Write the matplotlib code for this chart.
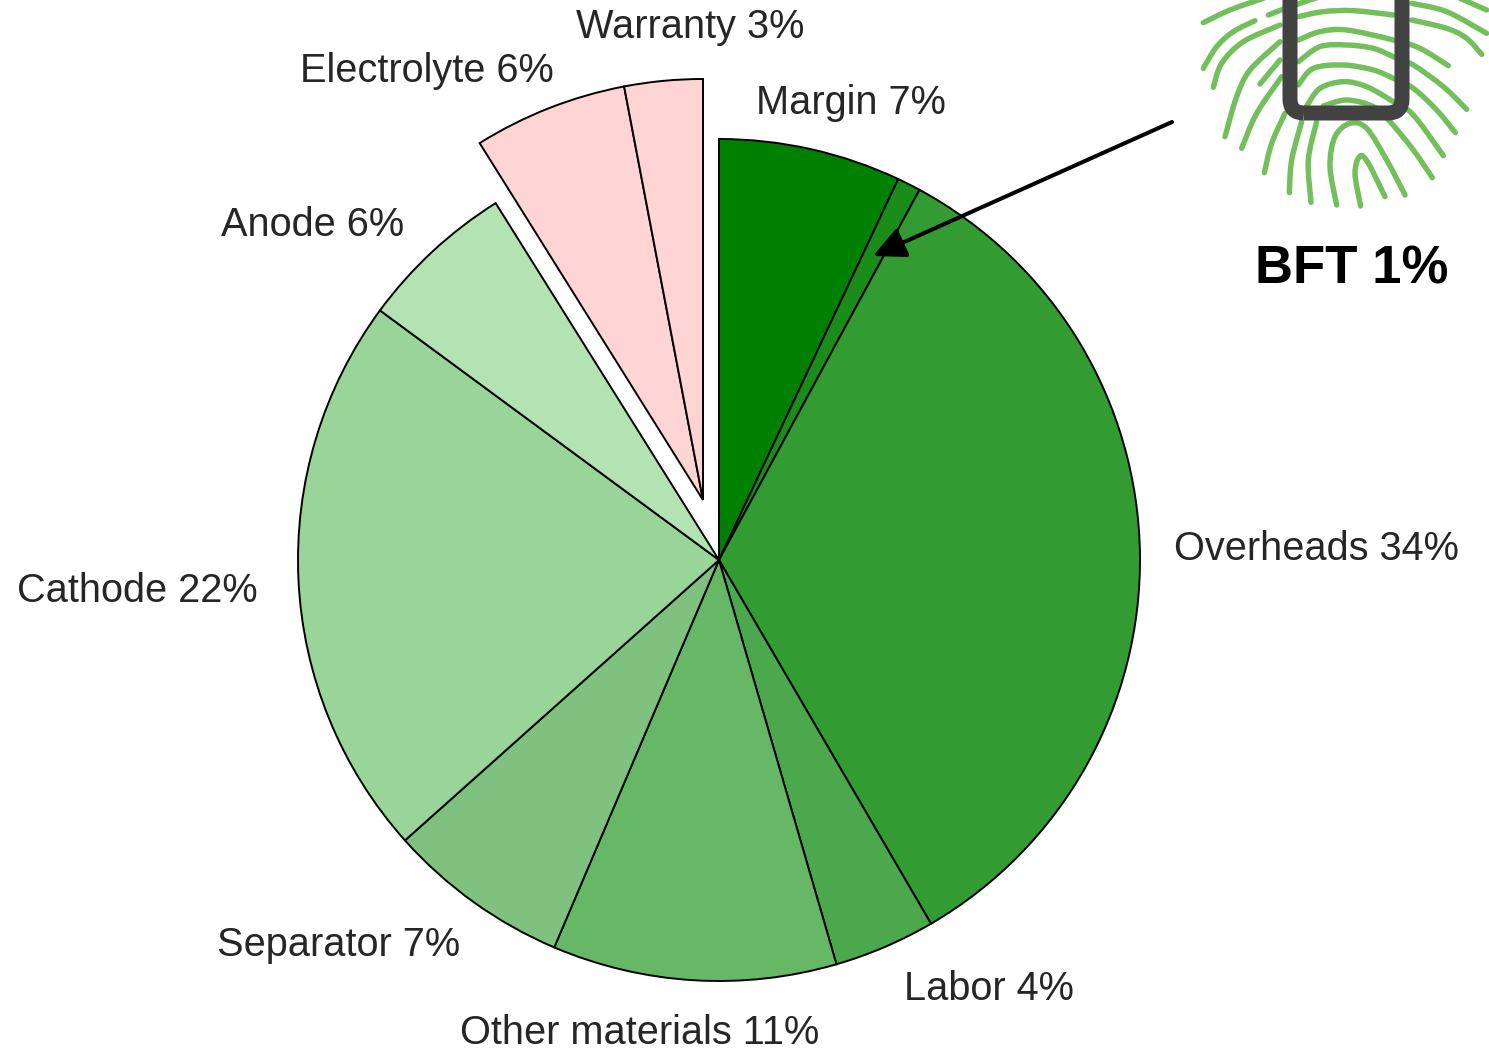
import numpy as np
import matplotlib
matplotlib.use('Agg')
import matplotlib.pyplot as plt
from matplotlib.path import Path
from matplotlib.patches import PathPatch, FancyBboxPatch

plt.rcParams['font.family'] = ['Liberation Sans', 'DejaVu Sans']

# Main pie slices, clockwise from twelve o'clock
green_names = ['Margin', 'BFT', 'Overheads', 'Labor', 'Other materials', 'Separator', 'Cathode', 'Anode']
green_values = [7.0, 0.9, 33.7, 3.9, 10.9, 7.0, 21.7, 6.0]
green_shown = [7, 1, 34, 4, 11, 7, 22, 6]
green_colors = ['#008000', '#198c19', '#329b32', '#4ca84c', '#66b766', '#7fc27f', '#99d499', '#b3e3b3']

# Slices pulled out of the pie
pink_names = ['Electrolyte', 'Warranty']
pink_values = [5.9, 3.0]
pink_shown = [6, 3]
pink_colors = ['#ffd4d4', '#ffd4d4']

# left edge and vertical centre of each label, in image pixels
green_label_pos = [(756, 103.5), None, (1174, 548.5), (904, 989.5), (460, 1032.5), (217, 944.5), (17, 590.5), (221, 224.5)]
pink_label_pos = [(300, 70.5), (576, 27.5)]

W, H = 1489, 1051
CX, CY, R = 719, H - 560, 421
PX, PY = 703, H - 500
TEXT = '#262626'

# Fingerprint icon ridges (x, y on a 3x crop at 1180, 0)
ridges = [
    [(70, 68), (150, 30), (250, -5)],
    [(70, 205), (110, 140), (160, 95), (225, 62)],
    [(100, 262), (125, 190), (190, 125), (300, 75)],
    [(265, 45), (330, 20), (420, -10)],
    [(355, 50), (430, 35), (520, 32), (640, 45)],
    [(695, 10), (800, 35), (920, 100)],
    [(695, 60), (800, 85), (860, 115), (905, 163)],
    [(355, 120), (420, 95), (500, 90), (640, 120), (720, 145), (805, 197)],
    [(240, 252), (300, 180)],
    [(355, 185), (420, 140), (500, 135), (580, 145), (640, 170), (700, 195), (790, 260), (860, 328)],
    [(355, 255), (400, 205), (490, 195), (580, 210), (640, 235), (700, 265), (770, 330), (826, 398)],
    [(380, 318), (420, 265), (490, 245), (560, 260), (640, 305), (700, 345), (790, 467)],
    [(430, 318), (500, 300), (580, 320), (630, 365), (700, 450), (757, 533)],
    [(135, 410), (170, 290), (210, 210), (300, 125)],
    [(185, 445), (230, 340), (305, 230)],
    [(253, 518), (275, 430), (315, 340)],
    [(328, 578), (335, 480), (365, 365)],
    [(393, 607), (385, 480), (410, 365)],
    [(470, 615), (450, 500), (465, 410), (510, 370), (560, 385), (620, 480), (675, 585)],
    [(542, 618), (525, 520), (540, 468), (565, 490), (615, 590)],
    [(840, -5), (920, 30)],
]


def ridge_path(points):
    # smooth curve through the traced points
    pts = np.array([(1180 + x / 3, H - y / 3) for x, y in points])
    verts = [pts[0]]
    codes = [Path.MOVETO]
    for i in range(len(pts) - 1):
        before = pts[max(i - 1, 0)]
        after = pts[min(i + 2, len(pts) - 1)]
        verts += [pts[i] + (pts[i + 1] - before) / 6, pts[i + 1] - (after - pts[i]) / 6, pts[i + 1]]
        codes += [Path.CURVE4] * 3
    return Path(verts, codes)


fig = plt.figure(figsize=(W / 100, H / 100), dpi=100)
ax = fig.add_axes([0, 0, 1, 1])

style = dict(edgecolor='black', linewidth=1.4)
ax.pie(np.array(green_values) / 100, colors=green_colors, startangle=90, counterclock=False,
       normalize=False, center=(CX, CY), radius=R, wedgeprops=style, frame=True)
pink_start = 90 + 360 * sum(pink_values) / 100
ax.pie(np.array(pink_values) / 100, colors=pink_colors, startangle=pink_start, counterclock=False,
       normalize=False, center=(PX, PY), radius=R, wedgeprops=style, frame=True)

ax.set_xlim(0, W)
ax.set_ylim(0, H)
ax.set_aspect('equal')
ax.axis('off')

for names, shown, positions in [(green_names, green_shown, green_label_pos),
                                (pink_names, pink_shown, pink_label_pos)]:
    for name, pct, pos in zip(names, shown, positions):
        if pos is None:
            continue
        ax.text(pos[0], H - pos[1], f'{name} {pct}%', fontsize=28.6, color=TEXT, ha='left', va='center')

ax.text(1352, H - 269, f'{green_names[1]} {green_shown[1]}%', fontsize=38, fontweight='bold',
        color='black', ha='center', va='center')

ax.annotate('', xy=(873, H - 256), xytext=(1172, H - 122),
            arrowprops=dict(arrowstyle='-|>,head_length=1.94,head_width=0.94', color='black',
                            lw=2.9, shrinkA=0, shrinkB=0))

for r in ridges:
    ax.add_patch(PathPatch(ridge_path(r), facecolor='none', edgecolor='#72bf5c', linewidth=3.9,
                           capstyle='round', joinstyle='round'))
ax.add_patch(FancyBboxPatch((1290, H - 113), 112, 200, boxstyle='round,pad=0,rounding_size=14',
                            facecolor='none', edgecolor='#424242', linewidth=10.8))

fig.savefig('out.png', dpi=100)
